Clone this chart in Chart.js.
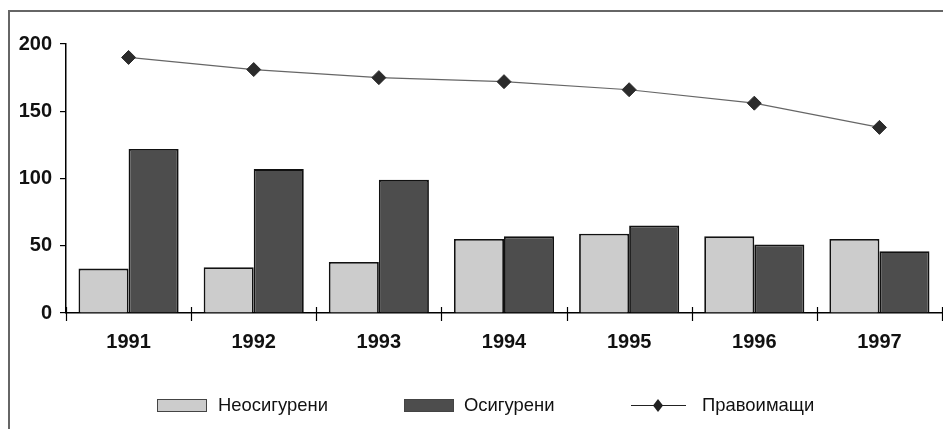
<!DOCTYPE html>
<html lang="bg">
<head>
<meta charset="UTF-8">
<title>Неосигурени / Осигурени / Правоимащи</title>
<script src="https://cdn.jsdelivr.net/npm/chart.js"></script>
<style>
  body { margin: 0; background: white; overflow: hidden; }
  .wrap { position: relative; width: 943px; height: 429px; }
  .frame { position: absolute; left: 8px; top: 10px; width: 1000px; height: 500px;
           border-top: 2px solid #666; border-left: 2px solid #666; }
  canvas { position: absolute; left: 0; top: 0; }
  .legend { position: absolute; top: 396px; left: 0; width: 943px; height: 22px;
            font-family: "Liberation Sans", Arial, sans-serif; font-size: 19px; color: #111; }
  .item { position: absolute; top: 0; line-height: 20px; white-space: nowrap; }
  .box { position: absolute; top: 3px; width: 48px; height: 11px; border: 1px solid #444; }
  .txt { position: absolute; top: -1px; display: inline-block; transform: scaleX(0.97); transform-origin: left center; }
</style>
</head>
<body>
<div class="wrap">
  <div class="frame"></div>
  <canvas id="chart" width="943" height="429"></canvas>
  <div class="legend">
    <div class="item" style="left:157px"><div class="box" style="background:#cccccc"></div><span class="txt" style="left:61px">Неосигурени</span></div>
    <div class="item" style="left:404px"><div class="box" style="background:#4d4d4d"></div><span class="txt" style="left:60px">Осигурени</span></div>
    <div class="item" style="left:631px">
      <svg width="56" height="20" style="position:absolute;top:0;left:0">
        <line x1="0" y1="9.5" x2="55" y2="9.5" stroke="#222" stroke-width="1"/>
        <polygon points="27,3 32,9.5 27,16 22,9.5" fill="#222"/>
      </svg>
      <span class="txt" style="left:71px">Правоимащи</span>
    </div>
  </div>
</div>
<script>
const years = ['1991', '1992', '1993', '1994', '1995', '1996', '1997'];
const uninsured = [33, 34, 38, 55, 59, 57, 55];
const insured = [122, 107, 99, 57, 65, 51, 46];
const entitled = [190, 181, 175, 172, 166, 156, 138];
const yTicks = [0, 50, 100, 150, 200];

const boldFont = { family: '"Liberation Sans", Arial, sans-serif', size: 20, weight: 'bold' };

// tick marks on the x axis cross the axis line at category boundaries
const crossTicks = {
  id: 'crossTicks',
  afterDraw(chart) {
    const xs = chart.scales.x;
    const ctx = chart.ctx;
    ctx.save();
    ctx.strokeStyle = '#000';
    ctx.lineWidth = 1.2;
    for (let i = 0; i <= years.length; i++) {
      const px = Math.round(xs.getPixelForValue(i - 0.5)) + 0.5;
      ctx.beginPath();
      ctx.moveTo(px, xs.top - 6);
      ctx.lineTo(px, xs.top + 8);
      ctx.stroke();
    }
    ctx.restore();
  }
};

new Chart(document.getElementById('chart').getContext('2d'), {
  type: 'bar',
  data: {
    labels: years,
    datasets: [
      { type: 'line', label: 'Правоимащи', data: entitled, order: 0,
        borderColor: '#666', borderWidth: 1.2, backgroundColor: '#2b2b2b',
        pointStyle: 'rectRot', pointRadius: 7, pointBackgroundColor: '#2b2b2b',
        pointBorderColor: '#2b2b2b', pointBorderWidth: 1, tension: 0 },
      { label: 'Неосигурени', data: uninsured, order: 1,
        backgroundColor: '#cccccc', borderColor: '#111', borderWidth: 1.8,
        categoryPercentage: 0.8, barPercentage: 1.0 },
      { label: 'Осигурени', data: insured, order: 1,
        backgroundColor: '#4d4d4d', borderColor: '#111', borderWidth: 1.8,
        categoryPercentage: 0.8, barPercentage: 1.0 }
    ]
  },
  options: {
    responsive: false,
    animation: false,
    layout: { autoPadding: false, padding: { top: 44, right: 1, bottom: 0, left: 0 } },
    plugins: { legend: { display: false }, tooltip: { enabled: false } },
    scales: {
      x: {
        grid: { display: false },
        border: { display: true, color: '#000', width: 1.5 },
        ticks: { color: '#111', font: boldFont, padding: 9 },
        afterFit(scale) { scale.height = 116; }
      },
      y: {
        min: 0, max: 200,
        afterBuildTicks(scale) { scale.ticks = yTicks.map(v => ({ value: v })); },
        grid: { display: true, drawOnChartArea: false, drawTicks: true, tickLength: 6, color: '#000', lineWidth: 1.2 },
        border: { display: true, color: '#000', width: 1.5 },
        ticks: { color: '#111', font: boldFont, padding: 8 },
        afterFit(scale) { scale.width = 66; }
      }
    }
  },
  plugins: [crossTicks]
});
</script>
</body>
</html>
